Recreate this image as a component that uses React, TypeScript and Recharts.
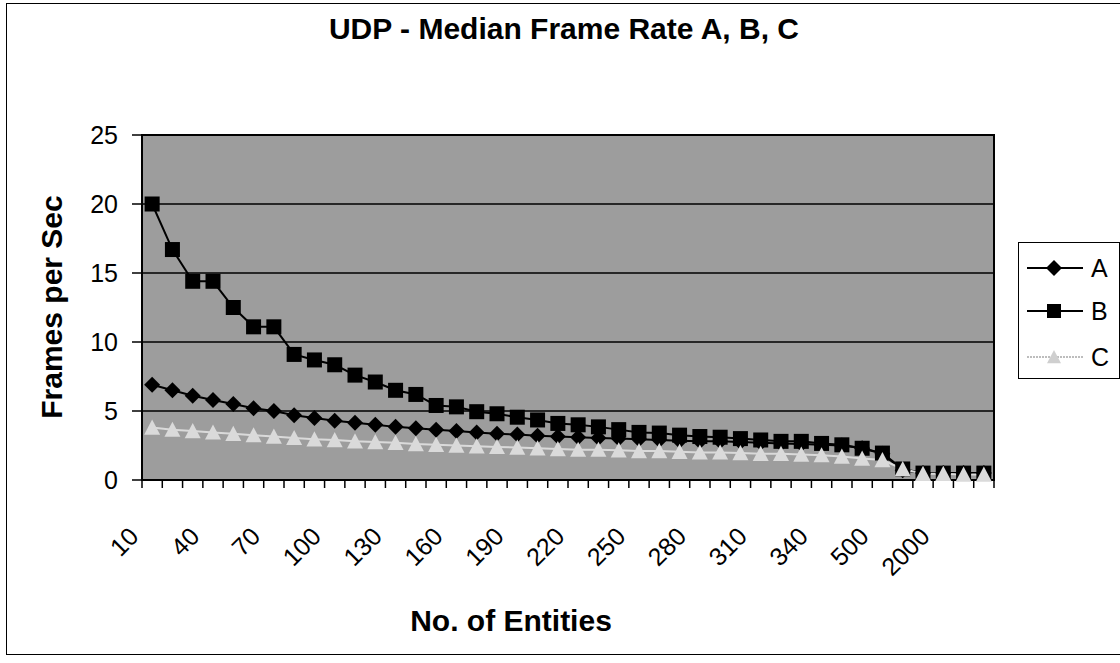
import React from "react";
import {
  LineChart,
  Line,
  XAxis,
  YAxis,
  CartesianGrid,
  Legend,
  ReferenceArea,
} from "recharts";

const FONT = "'Liberation Sans', Arial, sans-serif";

const categories = [
  "10", "20", "30", "40", "50", "60", "70", "80", "90", "100",
  "110", "120", "130", "140", "150", "160", "170", "180", "190", "200",
  "210", "220", "230", "240", "250", "260", "270", "280", "290", "300",
  "310", "320", "330", "340", "350", "400", "500", "1000", "1500", "2000",
  "2500", "3000",
];

const seriesA = [
  6.9, 6.5, 6.1, 5.8, 5.5, 5.2, 5.0, 4.7, 4.5, 4.3,
  4.15, 4.0, 3.85, 3.75, 3.65, 3.55, 3.45, 3.35, 3.3, 3.2,
  3.15, 3.1, 3.05, 3.0, 2.95, 2.9, 2.85, 2.8, 2.8, 2.75,
  2.7, 2.65, 2.6, 2.55, 2.5, 2.3, 1.9, 0.7, 0.5, 0.5,
  0.5, 0.5,
];

const seriesB = [
  20.0, 16.7, 14.4, 14.4, 12.5, 11.1, 11.1, 9.1, 8.7, 8.35,
  7.6, 7.1, 6.5, 6.2, 5.4, 5.3, 4.95, 4.8, 4.55, 4.35,
  4.1, 4.0, 3.85, 3.65, 3.45, 3.4, 3.25, 3.15, 3.1, 3.0,
  2.9, 2.8, 2.8, 2.65, 2.55, 2.3, 1.95, 0.8, 0.5, 0.5,
  0.5, 0.5,
];

const seriesC = [
  3.8, 3.65, 3.55, 3.45, 3.35, 3.25, 3.15, 3.05, 2.95, 2.9,
  2.8, 2.75, 2.7, 2.6, 2.55, 2.5, 2.45, 2.4, 2.35, 2.3,
  2.25, 2.2, 2.2, 2.15, 2.1, 2.1, 2.05, 2.0, 2.0, 1.95,
  1.9, 1.9, 1.85, 1.8, 1.7, 1.55, 1.45, 0.8, 0.45, 0.45,
  0.4, 0.4,
];

const yTicks = [0, 5, 10, 15, 20, 25];

const data = categories.map((n, i) => ({
  n,
  A: seriesA[i],
  B: seriesB[i],
  C: seriesC[i],
}));

const C_COLOR = "#dadada";

const Diamond = ({ cx, cy, s = 8, fill = "#000" }: any) => (
  <path d={`M${cx},${cy - s}L${cx + s},${cy}L${cx},${cy + s}L${cx - s},${cy}Z`} fill={fill} />
);

const Square = ({ cx, cy, s = 7.5, fill = "#000" }: any) => (
  <rect x={cx - s} y={cy - s} width={s * 2} height={s * 2} fill={fill} />
);

const Triangle = ({ cx, cy, s = 8, fill = C_COLOR }: any) => (
  <path d={`M${cx},${cy - s}L${cx + s},${cy + s * 0.9}L${cx - s},${cy + s * 0.9}Z`} fill={fill} />
);

// labels on every 3rd category, tick marks on every category boundary
const XTick = ({ x = 0, y = 0, payload, index, visibleTicksCount }: any) => {
  const half = payload?.offset ?? 10;
  const ax = x - 12;
  const ay = y + 58;
  return (
    <g>
      <line x1={x - half} y1={y} x2={x - half} y2={y + 8} stroke="#000" strokeWidth={1.5} />
      {index === visibleTicksCount - 1 && (
        <line x1={x + half} y1={y} x2={x + half} y2={y + 8} stroke="#000" strokeWidth={1.5} />
      )}
      {index % 3 === 0 && (
        <text
          x={ax}
          y={ay}
          transform={`rotate(-45 ${ax} ${ay})`}
          textAnchor="end"
          fontFamily={FONT}
          fontSize={25}
          fill="#000">
          {payload.value}
        </text>
      )}
    </g>
  );
};

const LegendBox = () => {
  const rows = [
    { name: "A", icon: <Diamond cx={27} cy={9} s={8} />, color: "#000", dash: undefined },
    { name: "B", icon: <Square cx={27} cy={9} s={7} />, color: "#000", dash: undefined },
    { name: "C", icon: <Triangle cx={27} cy={9} s={7} fill="#cfcfcf" />, color: "#bdbdbd", dash: "2 1" },
  ];
  return (
    <div
      style={{
        width: 102,
        height: 137,
        border: "1.5px solid #000",
        boxSizing: "border-box",
        background: "#fff",
        fontFamily: FONT,
        fontSize: 25,
        position: "relative",
      }}>
      {rows.map((r, i) => (
        <div
          key={r.name}
          style={{
            position: "absolute",
            left: 8,
            top: [15, 58, 104][i],
            height: 20,
            display: "flex",
            alignItems: "center",
          }}>
          <svg width={56} height={18}>
            <line x1={0} y1={9} x2={56} y2={9} stroke={r.color} strokeWidth={2} strokeDasharray={r.dash} />
            {r.icon}
          </svg>
          <span style={{ marginLeft: 8, lineHeight: "20px" }}>{r.name}</span>
        </div>
      ))}
    </div>
  );
};

export default function App() {
  return (
    <div
      style={{
        position: "absolute",
        left: 0,
        top: 0,
        width: 1120,
        height: 663,
        background: "#fff",
        overflow: "hidden",
      }}>
      <div
        style={{
          position: "absolute",
          left: 6,
          top: 3,
          width: 1130,
          height: 652,
          border: "1.5px solid #000",
          boxSizing: "border-box",
        }}
      />
      <div
        style={{
          position: "absolute",
          left: 0,
          top: 12,
          width: 1128,
          textAlign: "center",
          fontFamily: FONT,
          fontWeight: "bold",
          fontSize: 30,
          zIndex: 2,
        }}>
        UDP - Median Frame Rate A, B, C
      </div>
      <LineChart
        width={1120}
        height={663}
        data={data}
        margin={{ top: 135, right: 24, bottom: 63, left: 8 }}>
        <CartesianGrid
          vertical={false}
          stroke="#000"
          strokeWidth={1.5}
          fill="#9d9d9d"
          fillOpacity={1}
          yAxisId="y"
          xAxisId="cat"
        />
        <ReferenceArea
          yAxisId="y"
          xAxisId="cat"
          y1={0}
          y2={25}
          fill="none"
          stroke="#000"
          strokeWidth={2}
          ifOverflow="extendDomain"
        />
        <XAxis
          xAxisId="cat"
          dataKey="n"
          scale="band"
          interval={0}
          height={120}
          tickSize={0}
          tickMargin={0}
          tickLine={false}
          axisLine={{ stroke: "#000", strokeWidth: 2 }}
          tick={<XTick />}
          label={{
            content: () => (
              <text
                x={511}
                y={631}
                textAnchor="middle"
                fontFamily={FONT}
                fontWeight="bold"
                fontSize={30}
                fill="#000">
                No. of Entities
              </text>
            ),
          }}
        />
        <YAxis
          yAxisId="y"
          width={134}
          domain={[0, 25]}
          ticks={yTicks}
          tickSize={10}
          tickMargin={14}
          axisLine={{ stroke: "#000", strokeWidth: 2 }}
          tickLine={{ stroke: "#000", strokeWidth: 1.5 }}
          tick={{ fontFamily: FONT, fontSize: 25, fill: "#000" }}
          label={{
            content: () => (
              <text
                x={62}
                y={307}
                transform="rotate(-90 62 307)"
                textAnchor="middle"
                fontFamily={FONT}
                fontWeight="bold"
                fontSize={30}
                fill="#000">
                Frames per Sec
              </text>
            ),
          }}
        />
        <Legend
          layout="vertical"
          align="right"
          verticalAlign="middle"
          content={<LegendBox />}
          wrapperStyle={{ left: 1018, top: 242, right: "auto", width: 102, height: 137 }}
        />
        <Line
          xAxisId="cat"
          yAxisId="y"
          dataKey="A"
          stroke="#000"
          strokeWidth={2}
          isAnimationActive={false}
          dot={(p: any) => <Diamond key={`a${p.index}`} cx={p.cx} cy={p.cy} />}
        />
        <Line
          xAxisId="cat"
          yAxisId="y"
          dataKey="B"
          stroke="#000"
          strokeWidth={2}
          isAnimationActive={false}
          dot={(p: any) => <Square key={`b${p.index}`} cx={p.cx} cy={p.cy} />}
        />
        <Line
          xAxisId="cat"
          yAxisId="y"
          dataKey="C"
          stroke={C_COLOR}
          strokeWidth={2}
          isAnimationActive={false}
          dot={(p: any) => <Triangle key={`c${p.index}`} cx={p.cx} cy={p.cy} />}
        />
      </LineChart>
    </div>
  );
}
